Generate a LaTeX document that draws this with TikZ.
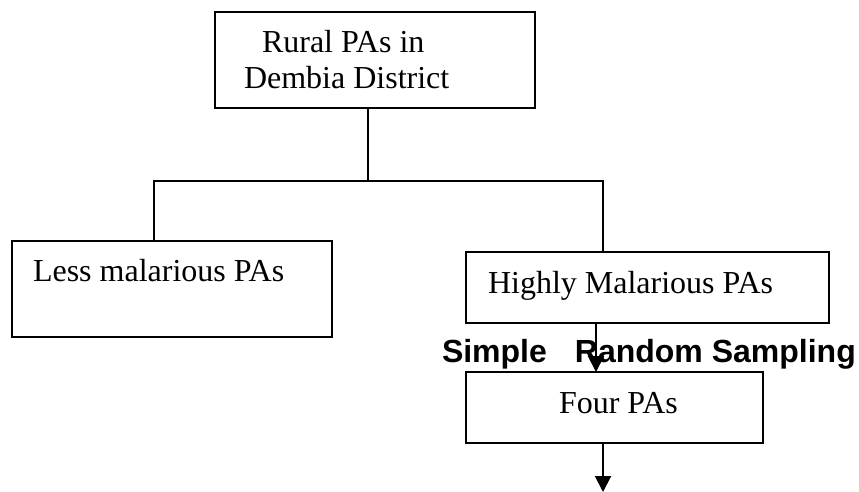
\documentclass[tikz,border=0pt]{standalone}
\usepackage{fontspec}
\setmainfont{Liberation Serif}
\newfontfamily\arialfont{Liberation Sans}
\usetikzlibrary{arrows.meta}
\begin{document}
\begin{tikzpicture}[x=1pt,y=-1pt,
  line width=2pt,
  boxnode/.style={draw, rectangle, inner sep=0pt, outer sep=0pt},
  lbl/.style={inner sep=0pt, anchor=base west, font=\fontsize{32}{36}\selectfont},
  samp/.style={inner sep=0pt, anchor=base west, font=\arialfont\bfseries\fontsize{32}{36}\selectfont},
  arr/.style={-{Triangle[length=16pt,width=16pt]}}]
\useasboundingbox (0,0) rectangle (859,492);
% boxes
\node[boxnode, minimum width=320pt, minimum height=96pt] (top) at (375,60) {};
\node[boxnode, minimum width=320pt, minimum height=96pt] (less) at (172,289) {};
\node[boxnode, minimum width=363pt, minimum height=71pt] (high) at (647.5,287.5) {};
\node[boxnode, minimum width=297pt, minimum height=71pt] (four) at (614.5,407.5) {};
% texts
\node[lbl] (t1) at (261,53) {Rural PAs in};
\node[lbl] (t2) at (243,89) {Dembia District};
\node[lbl] (t3) at (32,281) {Less malarious PAs};
\node[lbl] (t4) at (487,293) {Highly Malarious PAs};
\node[lbl] (t5) at (558,413) {Four PAs};
\node[samp] (s) at (441,362) {Simple\hspace{28pt}Random Sampling};
% connectors
\coordinate (j) at (368,181);
\coordinate (jl) at (154,181);
\coordinate (jr) at (603,181);
\coordinate (c1) at (596,350);
\coordinate (c2) at (603,492);
\draw (top.south -| j) -- (j);
\draw (less.north -| jl) -- (jl) -- (jr) -- (high.north -| jr);
\draw[arr] (high.south -| c1) -- (four.north -| c1);
\draw[arr] (four.south -| c2) -- (c2);
\end{tikzpicture}
\end{document}
